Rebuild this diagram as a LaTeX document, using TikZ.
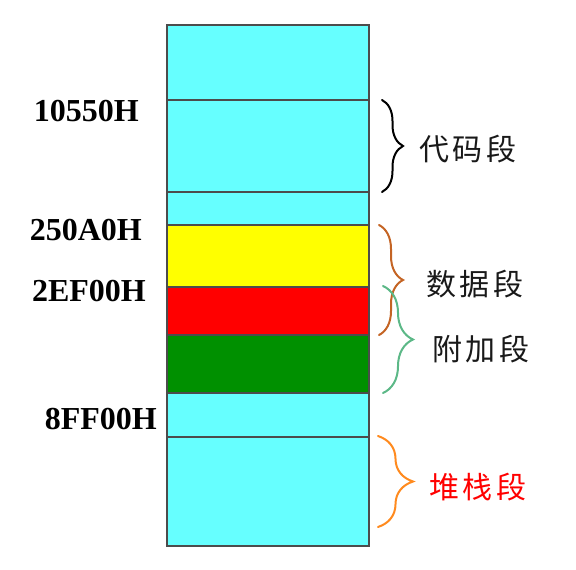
\documentclass[tikz,border=0pt]{standalone}
\usepackage{fontspec}
\setmainfont{Liberation Serif}
\newfontfamily\cjk[LetterSpace=12]{Noto Sans CJK SC}
\usetikzlibrary{decorations.pathreplacing}
\definecolor{memcyan}{RGB}{102,255,255}
\definecolor{memgreen}{RGB}{0,144,0}
\definecolor{memyellow}{RGB}{255,255,0}
\definecolor{bracebrown}{RGB}{196,100,36}
\definecolor{bracegreen}{RGB}{92,184,135}
\definecolor{braceorange}{RGB}{255,138,30}
\begin{document}
\begin{tikzpicture}[x=1pt, y=-1pt,
		cell/.style = {draw = black!70, line width = 1.3pt},
		addr/.style = {anchor = east, inner sep = 0pt, font = \fontsize{32}{36}\selectfont\bfseries},
		seg/.style = {inner sep = 0pt, text = black!90, font = \fontsize{30}{34}\selectfont\cjk},
		segbrace/.style = {decorate, line width = 2pt, line cap = round}]
				\useasboundingbox (0,0) rectangle (576,570);
				\filldraw[cell, fill=memcyan] (167,25) rectangle (369,225);
				\filldraw[cell, fill=memyellow] (167,225) rectangle (369,287);
				\filldraw[cell, fill=red] (167,287) rectangle (369,335);
				\filldraw[cell, fill=memgreen] (167,335) rectangle (369,393);
				\filldraw[cell, fill=memcyan] (167,393) rectangle (369,546);
				\draw[cell] (167,100) -- (369,100);
				\draw[cell] (167,192) -- (369,192);
				\draw[cell] (167,437) -- (369,437);
				\node[addr] (a10550) at (139,111) {10550H};
				\node[addr] (a250A0) at (142,230) {250A0H};
				\node[addr] (a2EF00) at (146,291) {2EF00H};
				\node[addr] (a8FF00) at (157,419) {8FF00H};
				\coordinate (codeT) at (382,100);
				\coordinate (codeB) at (382,192);
				\coordinate (dataT) at (379,225);
				\coordinate (dataB) at (379,335);
				\coordinate (extraT) at (383,286);
				\coordinate (extraB) at (383,393);
				\coordinate (stackT) at (378,436);
				\coordinate (stackB) at (378,527);
				\draw[segbrace, decoration={brace, amplitude=21pt}] (codeT) -- (codeB);
				\draw[segbrace, bracebrown, decoration={brace, amplitude=24pt}] (dataT) -- (dataB);
				\draw[segbrace, bracegreen, decoration={brace, amplitude=30pt}] (extraT) -- (extraB);
				\draw[segbrace, braceorange, decoration={brace, amplitude=35pt}] (stackT) -- (stackB);
				\node[seg] (code) at (468,149) {代码段};
				\node[seg] (data) at (475,284) {数据段};
				\node[seg] (extra) at (481,349) {附加段};
				\node[seg, text=red] (stack) at (478,487) {堆栈段};
				\end{tikzpicture}
\end{document}
